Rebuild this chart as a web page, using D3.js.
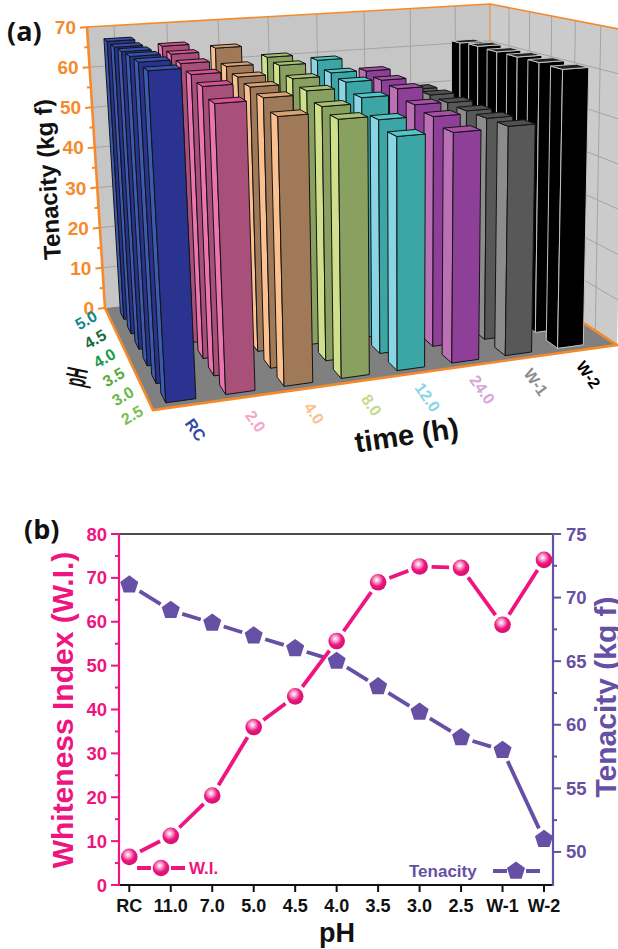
<!DOCTYPE html>
<html><head><meta charset="utf-8">
<script src="https://cdn.jsdelivr.net/npm/d3@7/dist/d3.min.js"></script>
<style>html,body{margin:0;background:#fff}svg{display:block}text{font-family:"Liberation Sans",Arial,sans-serif;font-weight:bold}</style>
</head><body><svg id="c" width="618" height="949"></svg>
<script>
// ---------- data (a)
const times=["RC","2.0","4.0","8.0","12.0","24.0","W-1","W-2"];
const phs=["2.5","3.0","3.5","4.0","4.5","5.0"];
const rcVals=[67.8,68.1,67.9,67.6,67.3,67.4];
const h2Vals=[60.1,62,63,64,64.8,65.4];
const h4Vals=[56.4,58.6,59.3,60,61,64.1];
const h8Vals=[54.8,55.7,57.5,58.7,60.4,61];
const h12Vals=[50.1,51.8,55,57,57.7,59.4];
const h24Vals=[49.9,51.5,52.4,54.5,55,55.8];
const w1Vals=[50.2,50.1,50,50.2,50.4,50.2];
const w2Vals=[61.8,61.9,61.8,61.7,61.8,61.4];
const tenacity3D=[rcVals,h2Vals,h4Vals,h8Vals,h12Vals,h24Vals,w1Vals,w2Vals];
const faceFront=["#2b3390","#a84f7a","#a07a58","#88a060","#3ca5a5","#8e4098","#585858","#000000"];
const faceSide=["#3a5cb0","#ec74b0","#fbbf90","#cfe08a","#88d5e5","#bb70b5","#8c8c8c","#000000"];
const faceTop=["#3552b0","#d84f9a","#d9a272","#a8c070","#50c8c8","#a650a8","#505050","#222222"];
const timeLabelCol=["#2f4aa0","#f3a6cc","#fbbf90","#c3dc8a","#88d5e5","#d5a6d8","#8c8c8c","#000000"];
const phLabelCol=["#7ac050","#6ab84a","#5aaa3a","#1a9a4a","#1a6b3a","#0f8a8a"];
// ---------- data (b)
const cats=["RC","11.0","7.0","5.0","4.5","4.0","3.5","3.0","2.5","W-1","W-2"];
const wi=[6.4,11.2,20.4,36,43,55.6,69,72.6,72.3,59.3,74.1];
const ten=[71,69,68,67,66,65,63,61,59,58,51];

const svg=d3.select("#c");
const ORANGE="#f58a2c",PINK="#ee1580",PURP="#6650a5";
// perspective frame of the 3-D box
function homography(q){ // unit square -> quad (00,10,11,01)
  const [[x0,y0],[x1,y1],[x2,y2],[x3,y3]]=q;
  const dx1=x1-x2,dx2=x3-x2,sx=x0-x1+x2-x3,dy1=y1-y2,dy2=y3-y2,sy=y0-y1+y2-y3;
  const d=dx1*dy2-dx2*dy1,g=(sx*dy2-dx2*sy)/d,h=(dx1*sy-sx*dy1)/d;
  const a=x1-x0+g*x1,b=x3-x0+h*x3,c=x0,e=y1-y0+g*y1,f=y3-y0+h*y3,i=y0;
  return (u,v)=>{const w=g*u+h*v+1;return[(a*u+b*v+c)/w,(e*u+f*v+i)/w];};
}
const floorH=homography([[153,410],[617,345],[490,262],[105,308]]);
const roofH=homography([[133,63],[624,30],[490,4],[87,27]]);
const hScale=d3.scaleLinear().domain([0,70]).range([0,1]);
const P=(u,v,val)=>{const a=floorH(u,v),b=roofH(u,v),t=hScale(val);return[a[0]+(b[0]-a[0])*t,a[1]+(b[1]-a[1])*t];};
const uS=d3.scaleBand().domain(times).range([0,0.965]).paddingInner(.5).paddingOuter(.25);
const vS=d3.scaleBand().domain(phs).range([0,0.97]).paddingInner(.5).paddingOuter(.25);
const wallV=d3.scalePoint().domain(phs.slice(1)).range([0.145,0.83]);
const uMid=t=>uS(t)+uS.bandwidth()/2;
const path=pts=>"M"+pts.map(p=>p.map(n=>n.toFixed(2)).join(",")).join("L")+"Z";
const a=svg.append("g");
// walls and floor
a.append("path").attr("d",path([P(0,1,0),P(1,1,0),P(1,1,70),P(0,1,70)])).attr("fill","#c6c6c6");
a.append("path").attr("d",path([P(1,1,0),P(1,0,0),P(1,0,70),P(1,1,70)])).attr("fill","#cbcbcb");
a.append("path").attr("d",path([P(0,0,0),P(1,0,0),P(1,1,0),P(0,1,0)])).attr("fill","#808080");
const hTicks=d3.range(10,70,10);
const grid=a.append("g").attr("stroke","#a4a4a4").attr("stroke-width",1).attr("fill","none");
hTicks.forEach(t=>{grid.append("path").attr("d",d3.line()([P(0,1,t),P(1,1,t),P(1,0,t)]));});
times.forEach(t=>{grid.append("path").attr("d",d3.line()([P(uMid(t),1,0),P(uMid(t),1,70)]));});
wallV.domain().forEach(p=>{grid.append("path").attr("d",d3.line()([P(1,wallV(p),0),P(1,wallV(p),70)]));});
// box edges
const edge=(pts,w)=>a.append("path").attr("d",d3.line()(pts)).attr("fill","none").attr("stroke",ORANGE).attr("stroke-width",w);
edge([P(0,1,70),P(1,1,70),P(1,0,70)],1.6);
edge([P(1,1,0),P(1,1,70)],1);
edge([P(0,1,0),P(0,0,0),P(1,0,0),P(1,1,0)],2.6);
edge([P(0,1,0),P(0,1,70)],2.6);
// bars, far to near and right to left
times.map((t,i)=>i).reverse().forEach(i=>{
  const t=times[i],u0=uS(t),u1=u0+uS.bandwidth();
  phs.map((p,j)=>j).reverse().forEach(j=>{
    const v0=vS(phs[j]),v1=v0+vS.bandwidth(),h=tenacity3D[i][j];
    const g=a.append("g").attr("stroke",i===7?"#c4c4c4":"#141414").attr("stroke-width",1).attr("stroke-linejoin","round");
    g.append("path").attr("d",path([P(u0,v1,0),P(u0,v0,0),P(u0,v0,h),P(u0,v1,h)])).attr("fill",faceSide[i]);
    g.append("path").attr("d",path([P(u0,v0,0),P(u1,v0,0),P(u1,v0,h),P(u0,v0,h)])).attr("fill",faceFront[i]);
    g.append("path").attr("d",path([P(u0,v0,h),P(u1,v0,h),P(u1,v1,h),P(u0,v1,h)])).attr("fill",faceTop[i]);
  });
});
// height axis
d3.range(0,71,5).forEach(t=>{
  const p=P(0,1,t),maj=t%10===0;
  a.append("line").attr("x1",p[0]).attr("y1",p[1]).attr("x2",p[0]-(maj?7:4)).attr("y2",p[1]+(maj?.7:.4)).attr("stroke",ORANGE).attr("stroke-width",2);
  if(maj)a.append("text").attr("x",p[0]-11).attr("y",p[1]+7).attr("text-anchor","end").attr("font-size",19).attr("fill",ORANGE).text(t);
});
const phLabX=d3.scalePoint().domain(phs).range([132,86]),phLabY=d3.scalePoint().domain(phs).range([415,320]);
phs.forEach((p,j)=>{
  a.append("text").attr("transform",`translate(${phLabX(p)},${phLabY(p)}) rotate(-30)`).attr("text-anchor","middle").attr("dy","0.35em").attr("font-size",16).attr("fill",phLabelCol[j]).text(p);});
times.forEach((t,i)=>{const q=P(uMid(t),0,0);
  a.append("text").attr("transform",`translate(${q[0]+12},${q[1]+24}) rotate(55)`).attr("text-anchor","middle").attr("dy","0.35em").attr("font-size",16).attr("fill",timeLabelCol[i]).text(t);});
a.append("text").attr("transform","translate(76,377) rotate(-78) scale(0.7,1.5)").attr("text-anchor","middle").attr("dy","0.35em").attr("font-size",20).attr("fill","#111").text("pH");
a.append("text").attr("transform","translate(56,179) rotate(-93.5)").attr("text-anchor","middle").attr("font-size",24).attr("fill","#111").text("Tenacity (kg f)");
a.append("text").attr("transform","translate(408,445) rotate(-8.3)").attr("text-anchor","middle").attr("font-size",29).attr("fill","#111").text("time (h)");
svg.append("text").attr("x",7).attr("y",41).attr("font-size",27).attr("fill","#111").style("font-family","'Open Sans'").text("(a)");
svg.append("text").attr("x",24).attr("y",539).attr("font-size",27).attr("fill","#111").style("font-family","'Open Sans'").text("(b)");

// ---------- panel b
const b=svg.append("g");
const xB=d3.scalePoint().domain(cats).range([129.3,544]);
const yL=d3.scaleLinear().domain([0,80]).range([885,534]);
const yR=d3.scaleLinear().domain([47.4,75]).range([885,534]);
const defs=svg.append("defs");
const rg=defs.append("radialGradient").attr("id","ball").attr("cx",.42).attr("cy",.36).attr("r",.62);
rg.append("stop").attr("offset","0").attr("stop-color","#ffffff");
rg.append("stop").attr("offset",".28").attr("stop-color","#f7a0cc");
rg.append("stop").attr("offset",".62").attr("stop-color",PINK);
rg.append("stop").attr("offset","1").attr("stop-color","#d8106f");
function gapped(g,pts,col,gap){
  d3.pairs(pts).forEach(([p,q])=>{
    const L=Math.hypot(q[0]-p[0],q[1]-p[1]);if(L<2*gap)return;
    const ux=(q[0]-p[0])/L,uy=(q[1]-p[1])/L;
    g.append("line").attr("x1",p[0]+ux*gap).attr("y1",p[1]+uy*gap).attr("x2",q[0]-ux*gap).attr("y2",q[1]-uy*gap)
     .attr("stroke",col).attr("stroke-width",3.8);
  });
}
const ball=(g,x,y)=>g.append("circle").attr("cx",x).attr("cy",y).attr("r",8.3).attr("fill","url(#ball)");
const pentaD=(x,y,r)=>path(d3.range(5).map(k=>{const th=-Math.PI/2+k*2*Math.PI/5;return[x+r*Math.cos(th),y+r*Math.sin(th)];}));
const ptsW=cats.map((c,i)=>[xB(c),yL(wi[i])]),ptsT=cats.map((c,i)=>[xB(c),yR(ten[i])]);
gapped(b,ptsT,PURP,12);gapped(b,ptsW,PINK,12);
ptsW.forEach(p=>ball(b,p[0],p[1]));
ptsT.forEach(p=>b.append("path").attr("d",pentaD(p[0],p[1],9.5)).attr("fill",PURP));
// frame
b.append("line").attr("x1",119).attr("x2",553).attr("y1",534).attr("y2",534).attr("stroke","#111").attr("stroke-width",1.6);
b.append("line").attr("x1",119).attr("x2",553).attr("y1",885).attr("y2",885).attr("stroke","#111").attr("stroke-width",2);
b.append("line").attr("x1",119).attr("x2",119).attr("y1",533).attr("y2",886).attr("stroke",PINK).attr("stroke-width",2.2);
b.append("line").attr("x1",553).attr("x2",553).attr("y1",533).attr("y2",886).attr("stroke",PURP).attr("stroke-width",2.2);
d3.range(0,81,5).forEach(t=>{const maj=t%10===0;
  b.append("line").attr("x1",119).attr("x2",119-(maj?8:4)).attr("y1",yL(t)).attr("y2",yL(t)).attr("stroke",PINK).attr("stroke-width",2);
  if(maj)b.append("text").attr("x",107).attr("y",yL(t)+6.5).attr("text-anchor","end").attr("font-size",18.5).attr("fill",PINK).text(t);});
d3.range(50,75.1,2.5).forEach(t=>{const maj=t%5===0;
  b.append("line").attr("x1",553).attr("x2",553+(maj?8:4)).attr("y1",yR(t)).attr("y2",yR(t)).attr("stroke",PURP).attr("stroke-width",2);
  if(maj)b.append("text").attr("x",566).attr("y",yR(t)+6.5).attr("font-size",18.5).attr("fill",PURP).text(t);});
cats.forEach(c=>{
  b.append("line").attr("x1",xB(c)).attr("x2",xB(c)).attr("y1",885).attr("y2",892).attr("stroke","#111").attr("stroke-width",2);
  b.append("text").attr("x",xB(c)).attr("y",912).attr("text-anchor","middle").attr("font-size",18).attr("fill","#111").text(c);});
b.append("text").attr("x",337).attr("y",942).attr("text-anchor","middle").attr("font-size",27).attr("fill","#111").text("pH");
b.append("text").attr("transform","translate(73,710) rotate(-90)").attr("text-anchor","middle").attr("font-size",30).attr("fill",PINK).text("Whiteness Index (W.I.)");
b.append("text").attr("transform","translate(616,697) rotate(-90)").attr("text-anchor","middle").attr("font-size",30).attr("fill",PURP).text("Tenacity (kg f)");
// legends
gapped(b,[[137,868],[185,868]],PINK,0);
b.select("line:last-child").attr("stroke-dasharray","14 20 14");
ball(b,161,868);
b.append("text").attr("x",189).attr("y",874).attr("font-size",17).attr("fill",PINK).text("W.I.");
gapped(b,[[493,871],[540,871]],PURP,0);
b.select("line:last-child").attr("stroke-dasharray","14 19 14");
b.append("path").attr("d",pentaD(516,871,9.5)).attr("fill",PURP);
b.append("text").attr("x",409).attr("y",877).attr("font-size",17).attr("fill",PURP).text("Tenacity");
</script></body></html>
